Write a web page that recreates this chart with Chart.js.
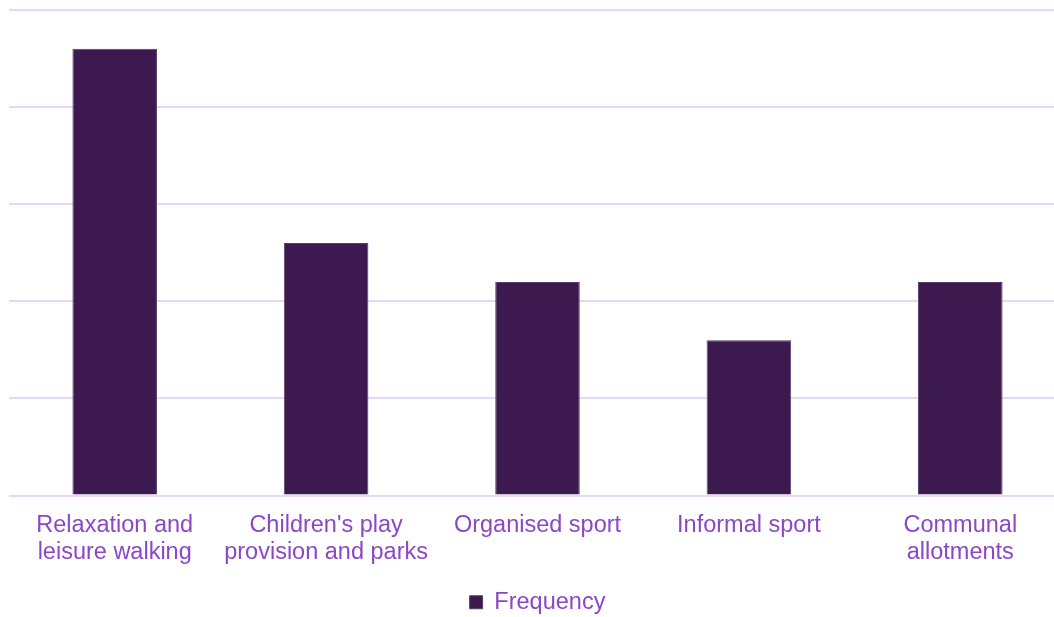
<!DOCTYPE html>
<html>
<head>
<meta charset="utf-8">
<script src="https://cdn.jsdelivr.net/npm/chart.js@4"></script>
<style>
  html, body { margin: 0; padding: 0; overflow: hidden; background: #fff; }
  #wrap { width: 1066px; height: 624px; position: relative; }
</style>
</head>
<body>
<div id="wrap"><canvas id="chart"></canvas></div>
<script>
// Green space uses, count of mentions
const categories = [
  ["Relaxation and", "leisure walking"],
  ["Children's play", "provision and parks"],
  "Organised sport",
  "Informal sport",
  ["Communal", "allotments"]
];
const frequency = [23, 13, 11, 8, 11];
const yMax = 25;
const yStep = 5;

const labelColor = "#8B47C5";
const gridColor = "#E8D6F6";
const barColor = "#3C1A50";

Chart.defaults.font.family = "'Liberation Sans', Arial, sans-serif";
Chart.defaults.font.size = 23.5;

const ctx = document.getElementById("chart").getContext("2d");
const chart = new Chart(ctx, {
  type: "bar",
  data: {
    labels: categories,
    datasets: [
      {
        label: "Frequency",
        data: frequency,
        backgroundColor: barColor,
        borderColor: "#5A3D6E",
        borderWidth: 1,
        barPercentage: 0.4,
        categoryPercentage: 1,
      },
    ],
  },
  options: {
    responsive: true,
    maintainAspectRatio: false,
    animation: false,
    layout: {
      padding: { top: 10, left: 9, right: 0, bottom: 0 },
    },
    scales: {
      x: {
        grid: { display: false, drawTicks: false },
        border: { display: false },
        ticks: {
          color: labelColor,
          padding: 17,
          maxRotation: 0,
          autoSkip: false,
          font: { size: 23.5, lineHeight: 27 / 23.5 },
        },
      },
      y: {
        min: 0,
        max: yMax,
        ticks: { display: false, stepSize: yStep },
        grid: { color: gridColor, lineWidth: 2, drawTicks: false },
        border: { display: false },
      },
    },
    plugins: {
      legend: {
        position: "bottom",
        labels: {
          color: labelColor,
          boxWidth: 13,
          boxHeight: 13,
          padding: 7,
          font: { size: 23.5 },
        },
      },
      tooltip: { enabled: false },
    },
  },
});
</script>
</body>
</html>
